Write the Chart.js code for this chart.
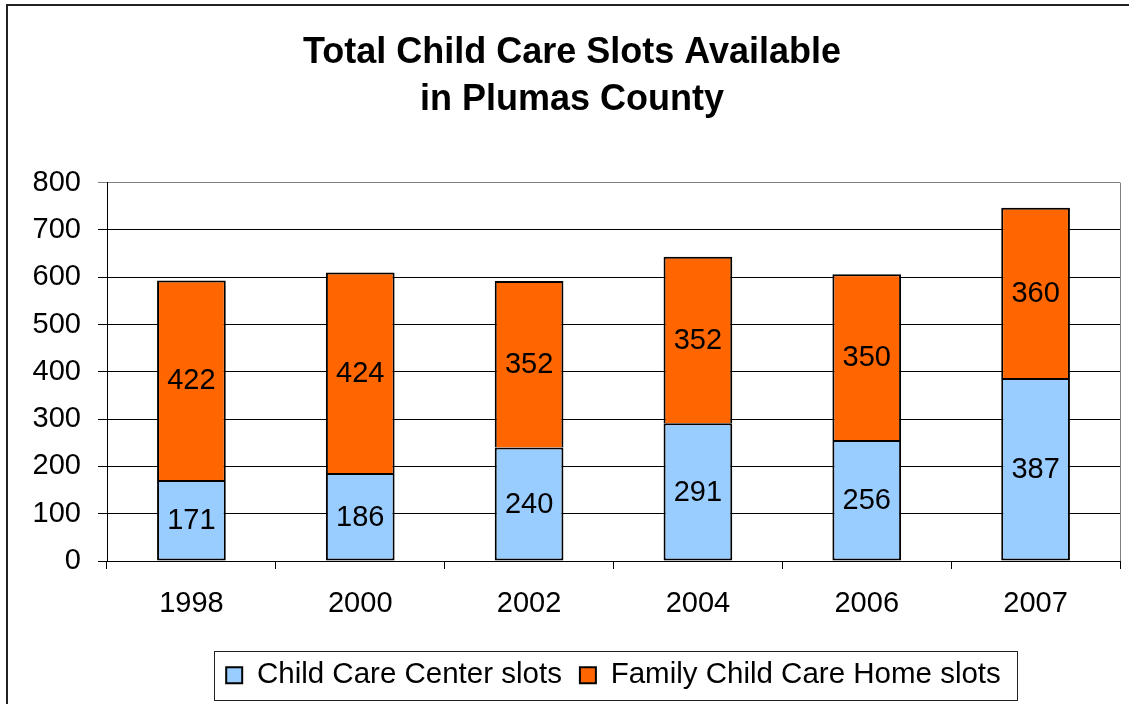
<!DOCTYPE html>
<html>
<head>
<meta charset="utf-8">
<script src="https://cdn.jsdelivr.net/npm/chart.js@4.4.1/dist/chart.umd.min.js"></script>
<style>
html,body{margin:0;padding:0;background:#fff;}
#wrap{width:1129px;height:704px;position:relative;}
</style>
</head>
<body>
<div id="wrap"><canvas id="c" width="1129" height="704"></canvas></div>
<script>
const titleLines = ["Total Child Care Slots Available", "in Plumas County"];
const years = ["1998", "2000", "2002", "2004", "2006", "2007"];
const centerSlots = [171, 186, 240, 291, 256, 387];
const familySlots = [422, 424, 352, 352, 350, 360];
const seriesNames = ["Child Care Center slots", "Family Child Care Home slots"];
const yTicks = [0, 100, 200, 300, 400, 500, 600, 700, 800];

const FONT = "'Liberation Sans', Arial, sans-serif";
Chart.defaults.font.family = FONT;
Chart.defaults.color = '#000';

const framePlugin = {
  id: 'frame',
  beforeDraw(chart) {
    const ctx = chart.ctx;
    ctx.save();
    ctx.fillStyle = '#fff';
    ctx.fillRect(0, 0, chart.width, chart.height);
    ctx.strokeStyle = '#222';
    ctx.lineWidth = 2;
    ctx.beginPath();
    ctx.moveTo(7, chart.height + 5);
    ctx.lineTo(7, 5);
    ctx.lineTo(chart.width + 5, 5);
    ctx.stroke();
    ctx.restore();
  },
  afterDatasetsDraw(chart) {
    const ctx = chart.ctx;
    const a = chart.chartArea;
    ctx.save();
    ctx.strokeStyle = '#808080';
    ctx.lineWidth = 1;
    ctx.beginPath();
    ctx.moveTo(Math.round(a.right) + 0.5, a.top);
    ctx.lineTo(Math.round(a.right) + 0.5, a.bottom);
    ctx.stroke();
    ctx.fillStyle = '#000';
    ctx.font = "29px " + FONT;
    ctx.textAlign = 'center';
    ctx.textBaseline = 'middle';
    chart.data.datasets.forEach((ds, di) => {
      const meta = chart.getDatasetMeta(di);
      meta.data.forEach((bar, i) => {
        const p = bar.getProps(['x', 'y', 'base'], true);
        ctx.fillText(String(ds.data[i]), p.x, (p.y + p.base) / 2 + 1);
      });
    });
    ctx.restore();
  },
  afterDraw(chart) {
    const lg = chart.legend;
    if (!lg || !lg.legendHitBoxes || !lg.legendHitBoxes.length) return;
    const hb = lg.legendHitBoxes;
    const first = hb[0], last = hb[hb.length - 1];
    const cy = first.top + first.height / 2;
    const ctx = chart.ctx;
    ctx.save();
    ctx.strokeStyle = '#222';
    ctx.lineWidth = 1;
    const l = Math.round(first.left - 12) + 0.5;
    const r = Math.round(last.left + last.width + 16) + 0.5;
    const t = Math.round(cy - 24) + 0.5;
    const b = Math.round(cy + 25) + 0.5;
    ctx.strokeRect(l, t, r - l, b - t);
    ctx.restore();
  }
};

new Chart(document.getElementById('c'), {
  type: 'bar',
  data: {
    labels: years,
    datasets: [
      {
        label: seriesNames[0],
        data: centerSlots,
        backgroundColor: '#99CCFF',
        borderColor: '#000',
        borderWidth: 2,
        borderSkipped: false,
        barPercentage: 0.407,
        categoryPercentage: 1
      },
      {
        label: seriesNames[1],
        data: familySlots,
        backgroundColor: '#FF6600',
        borderColor: '#000',
        borderWidth: 2,
        borderSkipped: 'start',
        barPercentage: 0.407,
        categoryPercentage: 1
      }
    ]
  },
  options: {
    responsive: false,
    animation: false,
    layout: { padding: { left: 24, right: 9, top: 0, bottom: 4 } },
    plugins: {
      title: {
        display: true,
        text: titleLines,
        color: '#000',
        font: { size: 36, weight: 'bold', family: FONT, lineHeight: 1.3 },
        padding: { top: 30, bottom: 59 }
      },
      legend: {
        display: true,
        position: 'bottom',
        fullSize: false,
        labels: {
          color: '#000',
          font: { size: 29.5, family: FONT },
          boxWidth: 16,
          boxHeight: 16,
          padding: 18
        }
      },
      tooltip: { enabled: false }
    },
    scales: {
      x: {
        stacked: true,
        offset: true,
        grid: {
          offset: true,
          drawOnChartArea: false,
          drawTicks: true,
          tickLength: 8,
          color: '#000',
          lineWidth: 1
        },
        border: { display: true, color: '#000', width: 1 },
        ticks: { color: '#000', font: { size: 29, family: FONT }, padding: 18 },
        afterFit(scale) { scale.height = 81.5; }
      },
      y: {
        stacked: true,
        min: yTicks[0],
        max: yTicks[yTicks.length - 1],
        afterBuildTicks(scale) { scale.ticks = yTicks.map(v => ({ value: v })); },
        grid: {
          color: (c) => (c.tick && c.tick.value === yTicks[yTicks.length - 1]) ? '#808080' : '#000',
          lineWidth: 1,
          drawTicks: true,
          tickLength: 9
        },
        border: { display: true, color: '#000', width: 1 },
        ticks: { color: '#000', font: { size: 29, family: FONT }, padding: 17 },
        afterFit(scale) { scale.width = 83; }
      }
    }
  },
  plugins: [framePlugin]
});
</script>
</body>
</html>
